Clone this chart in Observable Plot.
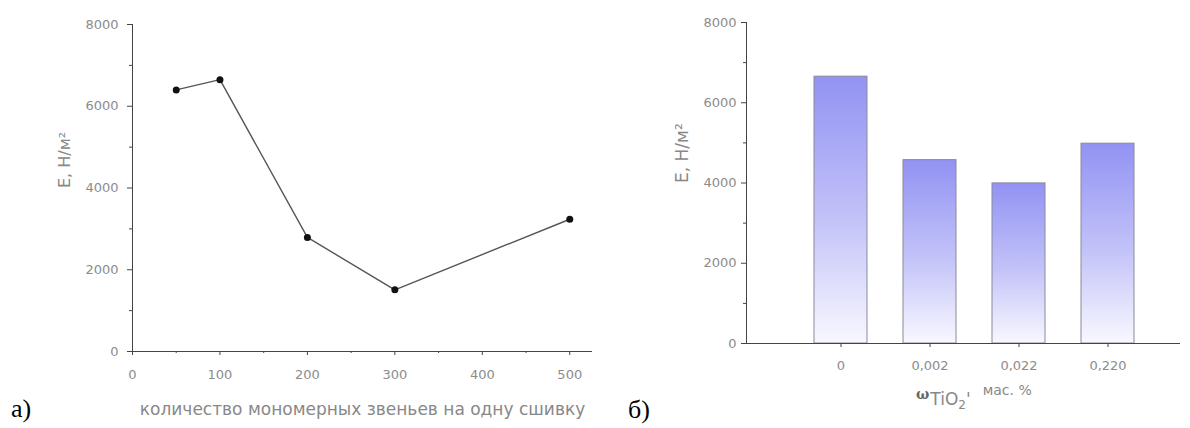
<!DOCTYPE html>
<html>
<head>
<meta charset="utf-8">
<script src="https://cdn.jsdelivr.net/npm/d3@7"></script>
<script src="https://cdn.jsdelivr.net/npm/@observablehq/plot@0.6"></script>
<style>
  html, body { margin: 0; padding: 0; background: #fff; }
  #wrap { position: relative; width: 1190px; height: 428px; overflow: hidden; font-family: "DejaVu Sans", sans-serif; }
  #left, #right { position: absolute; top: 0; }
  #left { left: 0; }
  #right { left: 600px; }
  .panel { position: absolute; font-family: "Liberation Serif", "DejaVu Serif", serif; font-size: 26px; color: #000; }
  #xlab2 { position: absolute; left: 916px; top: 383px; color: #888; white-space: nowrap; font-family: "DejaVu Sans", sans-serif; }
</style>
</head>
<body>
<div id="wrap">
  <div id="left"></div>
  <div id="right"></div>
  <div class="panel" style="left:11px; top:394px;">а)</div>
  <div class="panel" style="left:628px; top:395px;">б)</div>
  <div id="xlab2"><span style="font-family:'DejaVu Serif',serif;font-weight:bold;font-size:14px;color:#666;">ω</span><span style="font-size:17px;position:relative;top:6px;margin-left:1px;">TiO<span style="font-size:12px;position:relative;top:4px;">2</span>'</span><span style="font-size:14px;position:relative;top:-4px;margin-left:12px;">мас. %</span></div>
</div>
<script>
// ---- data: left chart (line) ----
const linkUnits = [50, 100, 200, 300, 500];
const modulusLine = [6400, 6650, 2790, 1510, 3235];
// ---- data: right chart (bars) ----
const tioCats = ["0", "0,002", "0,022", "0,220"];
const modulusBars = [6650, 4570, 3990, 4980];
// ---- ticks ----
const yTicks = [0, 2000, 4000, 6000, 8000];
const yMinor = [1000, 3000, 5000, 7000];
const xTicks = [0, 100, 200, 300, 400, 500];
const xMinor = [50, 150, 250, 350, 450];

const lineData = linkUnits.map((x, i) => ({x, y: modulusLine[i]}));
const barData = tioCats.map((c, i) => ({c, v: modulusBars[i]}));

const tickCol = "#8c8c8c";
const axisCol = "#444";
const fmt = d => String(d);

const left = Plot.plot({
  width: 600, height: 428,
  marginLeft: 132, marginRight: 8, marginTop: 24, marginBottom: 77,
  x: {domain: [0, 526]},
  y: {domain: [0, 8000]},
  style: {fontFamily: "DejaVu Sans", fontSize: "13px", background: "transparent"},
  marks: [
    Plot.axisY({ticks: yTicks, tickSize: 5, tickPadding: 9, tickFormat: fmt, label: null, stroke: axisCol, fill: tickCol}),
    Plot.axisY({ticks: yMinor, tickSize: 3, tickFormat: () => "", label: null, stroke: axisCol}),
    Plot.axisX({ticks: xTicks, tickSize: 4, tickPadding: 14, tickFormat: fmt, label: null, stroke: axisCol, fill: tickCol}),
    Plot.axisX({ticks: xMinor, tickSize: 2, tickFormat: () => "", label: null, stroke: axisCol}),
    Plot.frame({anchor: "left", stroke: axisCol}),
    Plot.ruleY([0], {stroke: axisCol}),
    Plot.line(lineData, {x: "x", y: "y", stroke: "#555", strokeWidth: 1.4}),
    Plot.dot(lineData, {x: "x", y: "y", r: 3.5, fill: "#111", stroke: "none"}),
    Plot.text(["E, Н/м²"], {frameAnchor: "left", rotate: -90, dx: -68, fontSize: 16, fill: "#888"}),
    Plot.text(["количество мономерных звеньев на одну сшивку"], {frameAnchor: "bottom", dy: 63, fontSize: 17, fill: "#888"})
  ]
});
document.getElementById("left").append(left);

const gradDefs = () => {
  const d = d3.create("svg:defs");
  const g = d.append("linearGradient").attr("id", "barGrad")
    .attr("x1", 0).attr("y1", 0).attr("x2", 0).attr("y2", 1);
  g.append("stop").attr("offset", "0%").attr("stop-color", "#9292f3");
  g.append("stop").attr("offset", "55%").attr("stop-color", "#c4c4f9");
  g.append("stop").attr("offset", "100%").attr("stop-color", "#f8f8ff");
  return d.node();
};

const right = Plot.plot({
  width: 590, height: 428,
  marginLeft: 146, marginRight: 10, marginTop: 22, marginBottom: 85,
  x: {type: "band", domain: tioCats, range: [176, 572], padding: 0.4},
  y: {domain: [0, 8000]},
  style: {fontFamily: "DejaVu Sans", fontSize: "13px", background: "transparent"},
  marks: [
    gradDefs,
    Plot.barY(barData, {x: "c", y: "v", fill: "url(#barGrad)", stroke: "#8a8a9c", strokeWidth: 1}),
    Plot.axisY({ticks: yTicks, tickSize: 5, tickPadding: 5, tickFormat: fmt, label: null, stroke: axisCol, fill: tickCol}),
    Plot.axisY({ticks: yMinor, tickSize: 3, tickFormat: () => "", label: null, stroke: axisCol}),
    Plot.axisX({tickSize: 4, tickPadding: 13, label: null, stroke: axisCol, fill: tickCol}),
    Plot.frame({anchor: "left", stroke: axisCol}),
    Plot.ruleY([0], {stroke: axisCol}),
    Plot.text(["E, Н/м²"], {frameAnchor: "left", rotate: -90, dx: -64, fontSize: 17, fill: "#888"})
  ]
});
document.getElementById("right").append(right);
</script>
</body>
</html>
